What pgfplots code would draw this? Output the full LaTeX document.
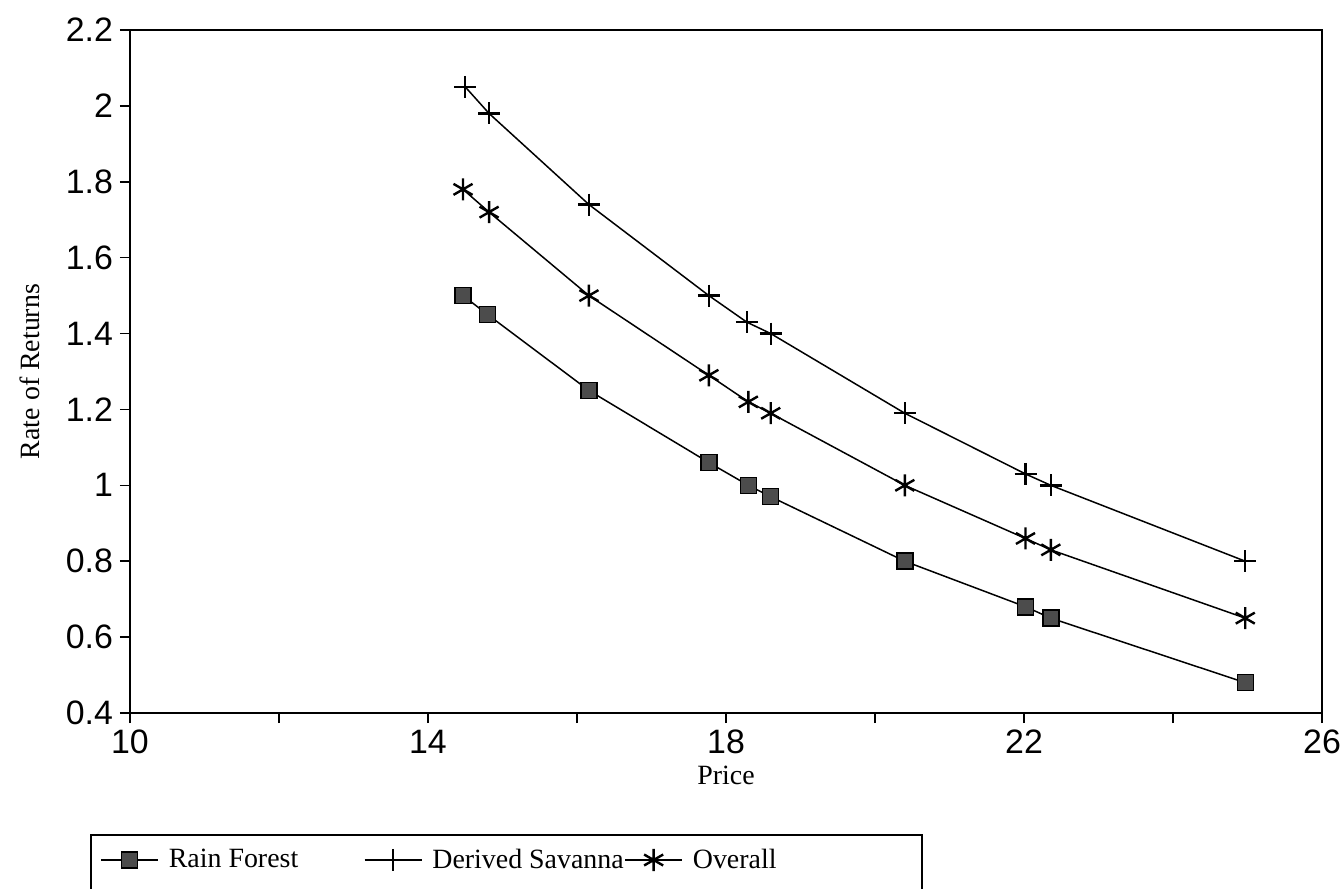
\documentclass[border=0pt]{standalone}
\usepackage{fontspec}
\setmainfont{Liberation Serif}
\newfontfamily\sansf{Liberation Sans}
\usepackage{pgfplots}
\pgfplotsset{compat=1.18}
\begin{document}
\begin{tikzpicture}
\useasboundingbox (0,0) rectangle (671bp,444.5bp);
\begin{axis}[
  at={(65bp,88bp)}, anchor=south west,
  scale only axis, width=596bp, height=341.5bp,
  xmin=10, xmax=26, ymin=0.4, ymax=2.2,
  xtick={10,12,14,16,18,20,22,24,26},
  xticklabels={10,,14,,18,,22,,26},
  ytick={0.4,0.6,0.8,1,1.2,1.4,1.6,1.8,2,2.2},
  yticklabels={0.4,0.6,0.8,1,1.2,1.4,1.6,1.8,2,2.2},
  tick align=outside, xtick pos=bottom, ytick pos=left,
  major tick length=5bp,
  axis line style={line width=0.9bp},
  tick style={line width=0.8bp, black},
  /pgf/number format/assume math mode=true,
  tick label style={font=\sansf\fontsize{17}{17}\selectfont},
  label style={font=\fontsize{14}{14}\selectfont},
  xlabel={Price}, ylabel={Rate of Returns},
  xlabel style={at={(axis description cs:0.5,-0.092)}, anchor=center},
  ylabel style={at={(axis description cs:-0.0839,0.5)}, anchor=center},
  legend columns=3,
  legend style={draw=none, fill=none, inner sep=0pt, at={(-0.02517,-0.21523)}, anchor=west,
    /tikz/every even column/.style={column sep=0pt},
    nodes={inner sep=0pt, font=\fontsize{14}{14}\selectfont}},
  legend image code/.code={\draw[mark repeat=2, mark phase=2] plot coordinates {(0bp,0bp)(14.25bp,0bp)(28.5bp,0bp)};},
  every axis plot/.append style={black, line width=0.75bp, mark options={solid, line width=1.2bp}},
]
\addplot[mark=square*, mark size=4bp, mark options={fill=black!70, draw=black}] coordinates {
(14.47,1.50) (14.80,1.45) (16.16,1.25) (17.77,1.06) (18.30,1.00) (18.60,0.97) (20.40,0.80) (22.02,0.68) (22.36,0.65) (24.97,0.48)};
\addlegendentry{\hspace{5bp}\makebox[97.5bp][l]{Rain Forest}}
\addplot[mark=+, mark size=5.5bp] coordinates {
(14.50,2.05) (14.82,1.98) (16.16,1.74) (17.77,1.50) (18.28,1.43) (18.60,1.40) (20.40,1.19) (22.02,1.03) (22.36,1.00) (24.97,0.80)};
\addlegendentry{\hspace{5bp}\makebox[96bp][l]{Derived Savanna}}
\addplot[mark=asterisk, mark size=5.5bp] coordinates {
(14.47,1.78) (14.82,1.72) (16.16,1.50) (17.77,1.29) (18.30,1.22) (18.60,1.19) (20.40,1.00) (22.02,0.86) (22.36,0.83) (24.97,0.65)};
\addlegendentry{\hspace{5bp}Overall}
\end{axis}
\begin{scope}
\clip (0,0) rectangle (671bp,444.5bp);
\draw[line width=0.9bp] (45.5bp,-10bp) -- (45.5bp,27bp) -- (461bp,27bp) -- (461bp,-10bp);
\end{scope}
\end{tikzpicture}
\end{document}
